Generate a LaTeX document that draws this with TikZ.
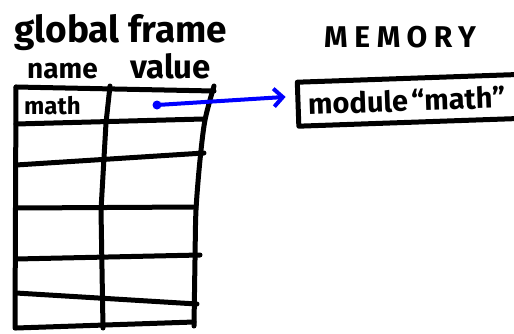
\documentclass[tikz,border=0pt]{standalone}
\usepackage{fontspec}
\setmainfont{Fira Sans}
\usetikzlibrary{arrows.meta}
\tikzstyle{gridline} = [draw,line width=5pt,line cap=round,line join=round]
\tikzstyle{hand} = [inner sep=0pt,anchor=base west,font=\bfseries]
\tikzstyle{memcell} = [draw,line width=5pt,line join=round,rotate=2,minimum width=240pt,minimum height=44pt,inner xsep=10pt,text width=220pt,align=left,font=\bfseries]
\tikzstyle{pointer} = [draw,blue,line width=4pt,line cap=round,-{Straight Barb[length=9pt,width=18pt,line width=4pt]}]

\begin{document}
\begin{tikzpicture}[x=1pt,y=-1pt]
    \clip (0,0) rectangle (514,333);
    % Headings: the frame, its two columns and the memory
    \foreach \pos/\name/\sz/\txt in {{(14,42)/gtitle/37/global frame}, {(27,78)/namehd/28/name}, {(130,78)/valuehd/33/value}, {(24,114)/mathname/24/math}}
        \node[hand] (\name) at \pos {\fontsize{\sz}{\sz}\selectfont \txt};
    \node[hand] (memtitle) at (324,47) {\fontsize{30}{30}\selectfont\addfontfeature{LetterSpace=22}MEMORY};

    % The table of the frame: rows first, then the columns
    \foreach \yl/\xr/\yr in {87/214/91, 124/203/119, 165/204/153, 208/196/207, 259/200/255, 293/197/304, 328/194/322}
        \path[gridline] (16,\yl) -- (\xr,\yr);
    \path[gridline] (16,87) -- (15,328);
    \path[gridline] (110,86) -- (106,123) -- (101,210) -- (103,328);
    \path[gridline] plot[smooth] coordinates {(214,86) (205,120) (200,160) (196,210) (195,260) (194,326)};

    % The module object and the reference to it
    \node[memcell] (memmod) at (418,100) {\fontsize{29}{29}\selectfont module ``math''};
    \coordinate (mathval) at (157,105);
    \fill[blue] (mathval) circle (4.5pt);
    \path[pointer,shorten >=10pt] (mathval) -- ([yshift=8pt]memmod.west);
\end{tikzpicture}
\end{document}
